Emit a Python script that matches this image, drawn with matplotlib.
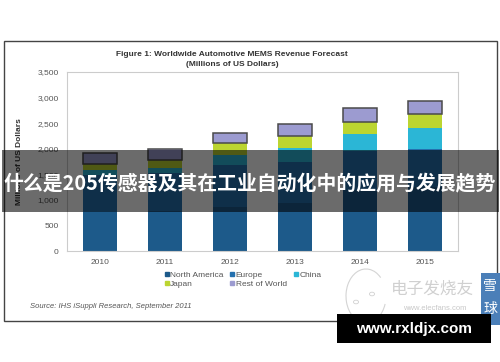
import matplotlib
matplotlib.use("Agg")
import matplotlib.pyplot as plt
from matplotlib.patches import Rectangle, Arc, Circle
from matplotlib.lines import Line2D

# Data (millions of US dollars)
years = ["2010", "2011", "2012", "2013", "2014", "2015"]
north_america = [760, 780, 865, 937, 1191, 1245]
europe = [735, 745, 810, 800, 762, 752]
china = [90, 100, 200, 273, 326, 400]
japan = [120, 150, 229, 234, 246, 273]
rest_of_world = [205, 215, 207, 248, 277, 260]

series_names = ["North America", "Europe", "China", "Japan", "Rest of World"]
series_values = [north_america, europe, china, japan, rest_of_world]
series_colors = ["#1d5a8a", "#2470ae", "#2bb6d6", "#bcd531", "#9c9bd0"]

y_ticks = [0, 500, 1000, 1500, 2000, 2500, 3000, 3500]

plt.rcParams["font.family"] = ["Liberation Sans", "DejaVu Sans"]
cjk = ["Noto Sans CJK SC", "DejaVu Sans"]

W, H = 500, 362
fig = plt.figure(figsize=(5, 3.62), dpi=100)
fig.patch.set_facecolor("white")

# outer frame of the figure image
fig.add_artist(Rectangle((4 / W, 1 - 321 / H), 493 / W, 280 / H, transform=fig.transFigure,
                         fill=False, edgecolor="#444444", linewidth=1.0))

ax = fig.add_axes([67 / W, 1 - 251 / H, 391 / W, 179 / H])
x = list(range(len(years)))
bottom = [0] * len(years)
for name, vals, col in zip(series_names, series_values, series_colors):
    if name == "Rest of World":
        ax.bar(x, vals, bottom=bottom, width=0.52, color=col, edgecolor="#4a4a4a", linewidth=1.1, zorder=3)
    else:
        ax.bar(x, vals, bottom=bottom, width=0.52, color=col, linewidth=0, zorder=2)
    bottom = [b + v for b, v in zip(bottom, vals)]

ax.set_xlim(-0.5, 5.5)
ax.set_ylim(0, 3500)
ax.set_yticks(y_ticks)
ax.set_yticklabels([f"{t:,}" for t in y_ticks])
ax.set_xticks(x)
ax.set_xticklabels(years)
ax.tick_params(length=0, labelsize=6, labelcolor="#555555", pad=6)
for s in ax.spines.values():
    s.set_color("#cccccc")
    s.set_linewidth(0.8)
ax.set_ylabel("Millions of US Dollars", fontsize=6, fontweight="bold", color="#333333", labelpad=10)

fig.text(232 / W, 1 - 55 / H, "Figure 1: Worldwide Automotive MEMS Revenue Forecast",
         ha="center", va="center", fontsize=6, fontweight="bold", color="#333333")
fig.text(232 / W, 1 - 65 / H, "(Millions of US Dollars)",
         ha="center", va="center", fontsize=6, fontweight="bold", color="#333333")

# legend, row-major order: NA, Europe, China / Japan, RoW
order = [0, 3, 1, 4, 2]
handles = [Line2D([], [], marker="s", linestyle="", markersize=3.5,
                  markerfacecolor=series_colors[i], markeredgecolor=series_colors[i]) for i in order]
labels = [series_names[i] for i in order]
leg = fig.legend(handles, labels, loc="upper left", bbox_to_anchor=(164 / W, 1 - 271 / H), ncol=3,
                 frameon=False, fontsize=6, handlelength=0.6, handletextpad=0.1,
                 columnspacing=0.8, labelspacing=0.1, borderpad=0, borderaxespad=0)
for t in leg.get_texts():
    t.set_color("#555555")

fig.text(30 / W, 1 - 307 / H, "Source: IHS iSuppli Research, September 2011",
         ha="left", va="center", fontsize=5.5, style="italic", color="#555555")

# watermark logo (elecfans)
fig.add_artist(Arc((366 / W, 1 - 296 / H), 40 / W, 54 / H, theta1=60, theta2=330,
                   transform=fig.transFigure, color="#d4d4d4", linewidth=0.8))
fig.add_artist(Circle((356 / W, 1 - 302 / H), 2.5 / W, transform=fig.transFigure,
                      fill=False, edgecolor="#d0d0d0", linewidth=0.6))
fig.add_artist(Circle((372 / W, 1 - 294 / H), 2.5 / W, transform=fig.transFigure,
                      fill=False, edgecolor="#d0d0d0", linewidth=0.6))
fig.text(432 / W, 1 - 289 / H, "电子发烧友", ha="center", va="center", fontsize=12,
         style="italic", color="#d0d0d0", family=cjk)
fig.text(435 / W, 1 - 308 / H, "www.elecfans.com", ha="center", va="center", fontsize=5.5,
         color="#c8c8c8")

# 雪球 tag on right edge
fig.add_artist(Rectangle((481 / W, 1 - 325 / H), 19 / W, 52 / H, transform=fig.transFigure,
                         facecolor="#4b7fb8", edgecolor="none"))
fig.text(490 / W, 1 - 286 / H, "雪", ha="center", va="center", fontsize=10, color="white", family=cjk)
fig.text(490 / W, 1 - 309 / H, "球", ha="center", va="center", fontsize=10, color="white", family=cjk)

# translucent title band
fig.add_artist(Rectangle((2 / W, 1 - 212 / H), 497 / W, 62 / H, transform=fig.transFigure,
                         facecolor="black", alpha=0.58, edgecolor="none", zorder=10))
fig.text(250 / W, 1 - 183 / H, "什么是205传感器及其在工业自动化中的应用与发展趋势",
         ha="center", va="center", fontsize=14.3, fontweight="bold", color="white", zorder=11,
         family=cjk)

# black url box
fig.add_artist(Rectangle((337 / W, 1 - 343 / H), 154 / W, 29 / H, transform=fig.transFigure,
                         facecolor="black", edgecolor="none", zorder=10))
fig.text(414 / W, 1 - 328.5 / H, "www.rxldjx.com", ha="center", va="center", fontsize=11,
         fontweight="bold", color="white", zorder=11)

fig.savefig("out.png", dpi=100)
